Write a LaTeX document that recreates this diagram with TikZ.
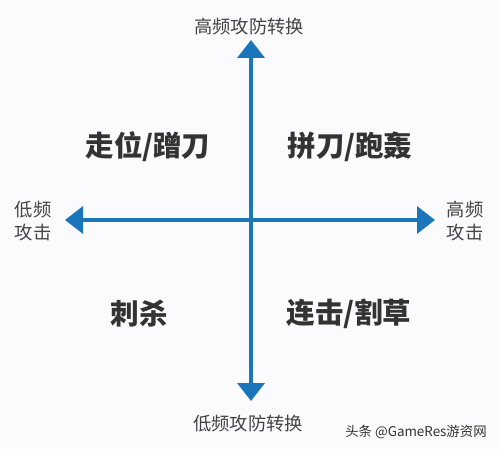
\documentclass[tikz,border=0pt]{standalone}
\usepackage{fontspec}
\usetikzlibrary{arrows.meta}
\newfontfamily\cjk{Noto Sans CJK SC}
\definecolor{axisblue}{HTML}{1B75BA}
\definecolor{txt}{HTML}{333333}
\definecolor{lbl}{HTML}{444444}
\definecolor{bg}{HTML}{FBFBFD}
\tikzset{
  axis/.style={axisblue, line width=3.6pt, {Triangle[width=27pt,length=18pt]}-{Triangle[width=27pt,length=18pt]}},
  quad/.style={text=txt, font=\cjk\bfseries\fontsize{28.5}{30}\selectfont, inner sep=0pt},
  side/.style={text=lbl, font=\cjk\fontsize{18.3}{23}\selectfont, inner sep=0pt, align=center},
  wm/.style={text=txt, font=\cjk\fontsize{13.4}{15}\selectfont, inner sep=0pt}
}
\begin{document}
\begin{tikzpicture}[x=1pt,y=-1pt]
\fill[bg] (0,0) rectangle (500,449);
\useasboundingbox (0,0) rectangle (500,449);
\coordinate (top) at (251,40);
\coordinate (bot) at (251,401);
\coordinate (lft) at (65,220);
\coordinate (rgt) at (435,220);
\draw[axis] (bot) -- (top);
\draw[axis] (lft) -- (rgt);
\node[side] (tl) at (249,27) {高频攻防转换};
\node[side] (bl) at (248,424) {低频攻防转换};
\node[side] (ll) at (33,221) {低频\\攻击};
\node[side] (rl) at (465,221) {高频\\攻击};
\node[quad] (q1) at (148,147) {走位/蹭刀};
\node[quad] (q2) at (350,147) {拼刀/跑轰};
\node[quad] (q3) at (139,314) {刺杀};
\node[quad] (q4) at (349,314) {连击/割草};
\node[wm] (wm) at (416,432) {头条 @GameRes游资网};
\end{tikzpicture}
\end{document}
